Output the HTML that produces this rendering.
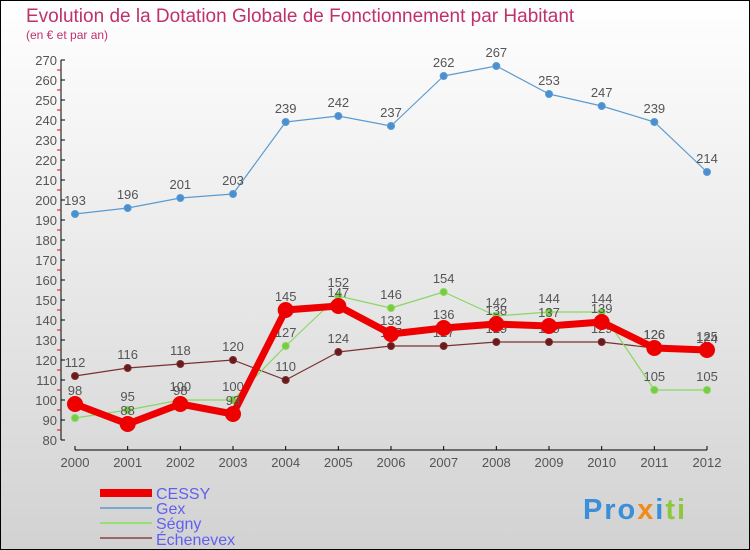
<!DOCTYPE html>
<html><head><meta charset="utf-8"><style>
body{margin:0}
svg{display:block;font-family:"Liberation Sans",sans-serif}
</style></head><body>
<svg width="750" height="550" xmlns="http://www.w3.org/2000/svg">
<defs><linearGradient id="bg" x1="0" y1="0" x2="0" y2="1"><stop offset="0" stop-color="#ffffff"/><stop offset="1" stop-color="#d2d2d2"/></linearGradient></defs>
<rect x="0.5" y="0.5" width="749" height="549" fill="url(#bg)" stroke="#000"/>
<text x="26" y="22" font-size="19" fill="#c0306a">Evolution de la Dotation Globale de Fonctionnement par Habitant</text>
<text x="26" y="39" font-size="12" fill="#c0306a">(en € et par an)</text>
<g id="axes"></g>
<g id="series"></g>
<g id="legend">
<rect x="100" y="489" width="52" height="8" fill="#ee0000"/>
<text x="156" y="499" font-size="16" fill="#6060f0">CESSY</text>
<rect x="100" y="507" width="52" height="2" fill="#7aa8cc"/>
<text x="156" y="514" font-size="16" fill="#6060f0">Gex</text>
<rect x="100" y="522" width="52" height="2" fill="#99dd77"/>
<text x="156" y="529" font-size="16" fill="#6060f0">Ségny</text>
<rect x="100" y="537" width="52" height="2" fill="#9a6666"/>
<text x="156" y="545" font-size="16" fill="#6060f0">Échenevex</text>
</g>
<text x="583" y="519" font-size="29" font-weight="bold" textLength="102"><tspan fill="#3a8fd8">Pro</tspan><tspan fill="#f08a1a">x</tspan><tspan fill="#3a8fd8">i</tspan><tspan fill="#8cc83c">ti</tspan></text>
</svg>
<script>
const years=["2000","2001","2002","2003","2004","2005","2006","2007","2008","2009","2010","2011","2012"];
const yTicks=[80,90,100,110,120,130,140,150,160,170,180,190,200,210,220,230,240,250,260,270];
const cessy=[98,88,98,93,145,147,133,136,138,137,139,126,125];
const gex=[193,196,201,203,239,242,237,262,267,253,247,239,214];
const segny=[91,95,100,100,127,152,146,154,142,144,144,105,105];
const echenevex=[112,116,118,120,110,124,127,127,129,129,129,126,124];
const NS="http://www.w3.org/2000/svg";
const X=i=>75+i*(707-75)/(years.length-1);
const Y=v=>440-(v-80)*2;
function mk(t,a,p){const e=document.createElementNS(NS,t);for(const k in a)e.setAttribute(k,a[k]);p.appendChild(e);return e;}
const ax=document.getElementById('axes');
let yl=mk('line',{x1:61,y1:Y(270),x2:61,y2:Y(80),stroke:'#000'},ax);


yTicks.forEach(v=>{
 mk('line',{x1:61,y1:Y(v),x2:65,y2:Y(v),stroke:'#000'},ax);
 mk('line',{x1:57,y1:Y(v)+10,x2:61,y2:Y(v)+10,stroke:v>80?'#e00':'none'},ax);
 const t=mk('text',{x:57,y:Y(v)+5,'font-size':13,fill:'#555','text-anchor':'end'},ax);
 
 
 t.textContent=v;
});
let xl=mk('line',{x1:X(0),y1:450,x2:X(12),y2:450,stroke:'#000'},ax);


years.forEach((y,i)=>{
 mk('line',{x1:X(i),y1:446,x2:X(i),y2:450,stroke:'#000'},ax);
 const t=mk('text',{x:X(i),y:467,'font-size':13,fill:'#555','text-anchor':'middle'},ax);
 
 
 t.textContent=y;
});
const sg=document.getElementById('series');
function draw(data,name,color,w,r,dot){
 const g=mk('g',{},sg);
 
 
 const p=mk('polyline',{points:data.map((v,i)=>X(i)+','+Y(v)).join(' '),fill:'none',stroke:color,'stroke-width':w,'stroke-linejoin':'round'},g);
 
 
 data.forEach((v,i)=>{
  const c=mk('circle',{cx:X(i),cy:Y(v),r:r,fill:dot,stroke:color,'stroke-width':1},g);
  
  
  const t=mk('text',{x:X(i),y:Y(v)-9,'font-size':13,fill:'#555','text-anchor':'middle'},g);
  
  
  t.textContent=v;
 });
}
draw(gex,'gex','#5b9bd0',1.2,3.5,'#4a90d0');
draw(echenevex,'echenevex','#7a3030',1.2,3.5,'#6a1a1a');
draw(segny,'segny','#88d860',1.2,3.5,'#77cc44');
draw(cessy,'cessy','#ee0000',7,7.5,'#ee0000');
</script>
</body></html>
